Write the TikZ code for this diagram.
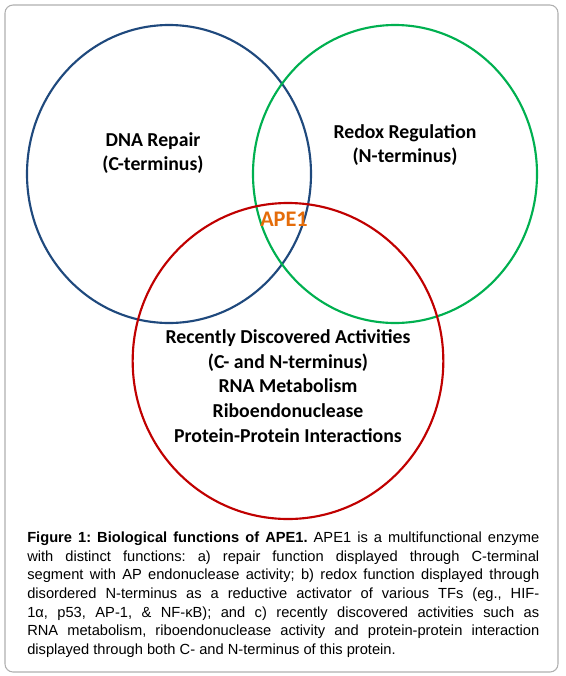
\documentclass[tikz,border=0pt]{standalone}
\usepackage{fontspec}
\setmainfont{Liberation Sans}
\newfontfamily\vennfont{Carlito}
\usetikzlibrary{shapes.geometric}
\definecolor{apeblue}  {RGB}{ 31, 73,125}
\definecolor{apegreen} {RGB}{  0,176, 80}
\definecolor{apered}   {RGB}{192,  0,  0}
\definecolor{apeorange}{RGB}{228,108, 10}
\definecolor{framegray}{RGB}{175,175,175}
\tikzset{
  set/.style={draw,ellipse,line width=1.6pt,inner sep=0pt},
  setblue/.style={set,draw=apeblue,minimum width=213pt,minimum height=223.5pt},
  setgreen/.style={set,draw=apegreen,minimum width=213pt,minimum height=223.5pt},
  setred/.style={set,draw=apered,minimum width=233pt,minimum height=237pt},
  lbl/.style={font=\vennfont\bfseries\fontsize{14.8}{18.5}\selectfont,
              align=center,text=black,inner sep=0pt},
  captxt/.style={font=\fontsize{11}{13.9}\selectfont,text width=384pt,
              align=justify,inner sep=0pt,anchor=north west},
}

\begin{document}
\begin{tikzpicture}[x=0.75pt,y=-0.75pt]
  \useasboundingbox (0,0) rectangle (566,676);
  % Frame
  \draw[framegray,line width=0.8pt,rounded corners=6pt](5,5) rectangle (558,672);
  % Circles
  \node[setblue](repair) at (169,174){};
  \node[setgreen](redox) at (395,174){};
  \node[setred](recent) at (288,361){};
  % Labels
  \node[lbl](repairlbl) at (153,153){DNA Repair\\(C-terminus)};
  \node[lbl](redoxlbl) at (405,145){Redox Regulation\\(N-terminus)};
  \node[lbl,text=apeorange,font=\vennfont\bfseries\fontsize{16.7}{18}\selectfont](ape) at (284,219){APE1};
  \node[lbl](recentlbl) at (288,386){Recently Discovered Activities\\(C- and N-terminus)\\RNA Metabolism\\Riboendonuclease\\Protein-Protein Interactions};
  % Caption
  \node[captxt](caption) at (27,532){\frenchspacing\hyphenpenalty=10000
    \textbf{Figure 1: Biological functions of APE1.} APE1 is a multifunctional enzyme\linebreak
    with distinct functions: a) repair function displayed through C-terminal\linebreak
    segment with AP endonuclease activity; b) redox function displayed through\linebreak
    disordered N-terminus as a reductive activator of various TFs (eg., HIF-\linebreak
    1α, p53, AP-1, \& NF-κB); and c) recently discovered activities such as\linebreak
    RNA metabolism, riboendonuclease activity and protein-protein interaction\linebreak
    displayed through both C- and N-terminus of this protein.};
\end{tikzpicture}
\end{document}
